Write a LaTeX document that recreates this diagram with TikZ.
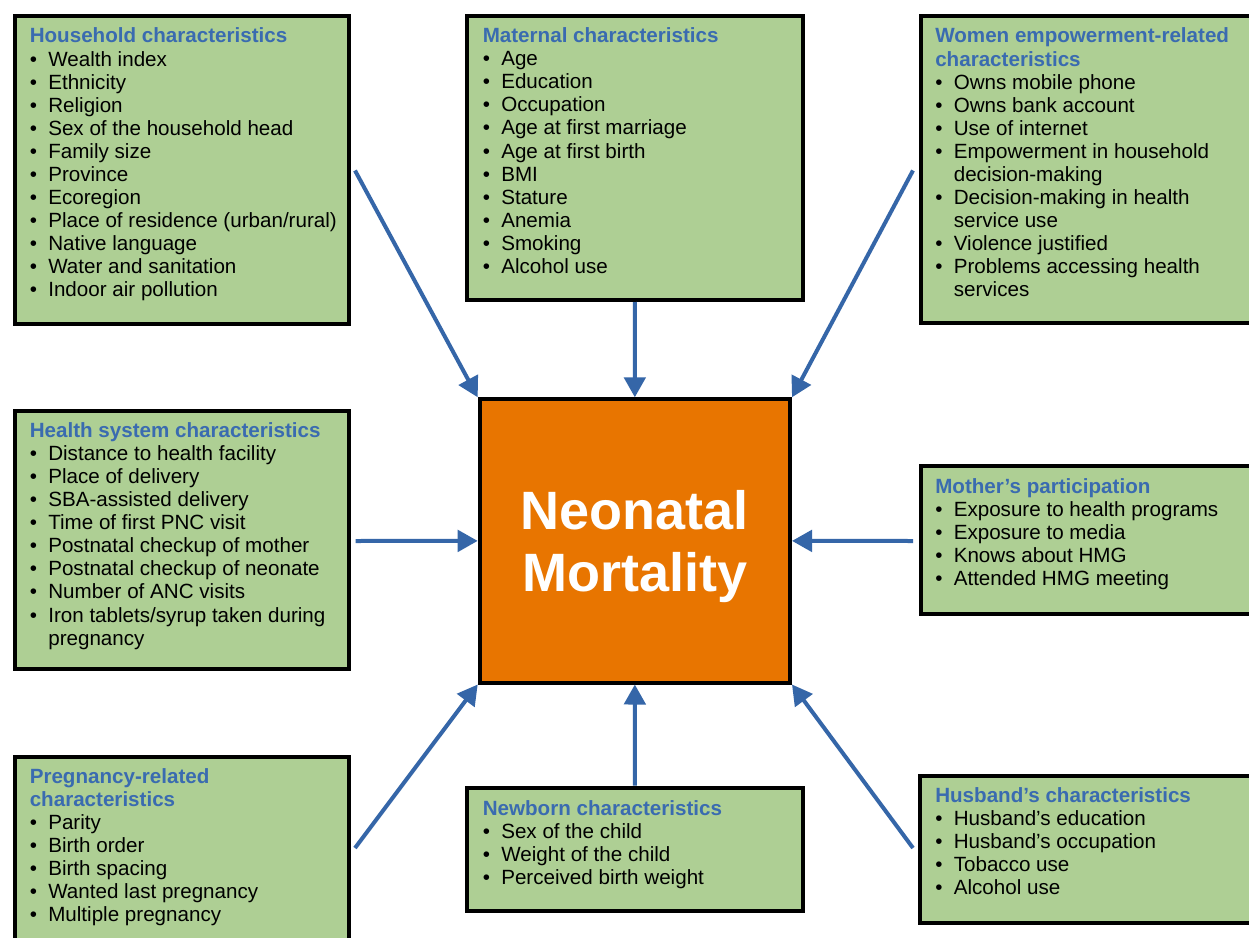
\documentclass[tikz,border=0pt]{standalone}
\usepackage{fontspec}
\setmainfont{Liberation Sans}
\usetikzlibrary{arrows.meta,fit}
\definecolor{boxgreen}{RGB}{174,207,148}
\definecolor{hdblue}{RGB}{58,107,176}
\definecolor{arrblue}{RGB}{53,102,168}
\definecolor{nmorange}{RGB}{232,117,0}
\newcommand\hdr[1]{\multicolumn{2}{@{}l@{}}{\color{hdblue}\bfseries #1}\\}
\newcommand\itm[1]{\makebox[13.9pt][l]{\textbullet} & #1\\}
\newcommand\cnt[1]{ & #1\\}
\begin{document}
\begin{tikzpicture}[x=0.75pt,y=-0.75pt,
  factor/.style={draw=black,line width=3pt,fill=boxgreen,inner sep=0pt},
  centre/.style={draw=black,line width=3pt,fill=nmorange,inner sep=0pt},
  centretext/.style={text=white,align=center,inner sep=0pt,
    font=\fontsize{40.5pt}{46.5pt}\selectfont\bfseries},
  listtext/.style={anchor=base west,inner sep=0pt,
    font=\fontsize{15.45pt}{17.3pt}\selectfont},
  conn/.style={draw=arrblue,line width=3pt,-{Triangle[length=15pt,width=16pt]}}
]
\useasboundingbox (0,0) rectangle (1249,938);
\fill[white] (0,0) rectangle (1249,938);
\clip (0,0) rectangle (1249,938);

% boxes
\node[factor,fit={(14.5,16) (349,323.5)}] (hh) {};
\node[factor,fit={(467,16) (802.5,300)}] (mat) {};
\node[factor,fit={(920.5,16) (1258,322.5)}] (wom) {};
\node[factor,fit={(14.5,411) (349,669)}] (hs) {};
\node[centre,fit={(479.7,399.3) (790,682.5)}] (nm) {};
\node[factor,fit={(920.5,466) (1258,614)}] (mp) {};
\node[factor,fit={(14.5,757) (349,948)}] (prg) {};
\node[factor,fit={(467,787.5) (802.5,910.7)}] (nb) {};
\node[factor,fit={(920,776) (1258,923)}] (hb) {};

% central text
\node[centretext,yshift=-4.5pt] (nmtext) at (nm.center) {Neonatal\\Mortality};

% list texts
\node[listtext] (hhtext) at (29.5,43) {\begin{tabular}[t]{@{}l@{}l@{}}
\hdr{Household characteristics}
\itm{Wealth index}
\itm{Ethnicity}
\itm{Religion}
\itm{Sex of the household head}
\itm{Family size}
\itm{Province}
\itm{Ecoregion}
\itm{Place of residence (urban/rural)}
\itm{Native language}
\itm{Water and sanitation}
\itm{Indoor air pollution}
\end{tabular}};

\node[listtext] (mattext) at (482.5,42.7) {\begin{tabular}[t]{@{}l@{}l@{}}
\hdr{Maternal characteristics}
\itm{Age}
\itm{Education}
\itm{Occupation}
\itm{Age at first marriage}
\itm{Age at first birth}
\itm{BMI}
\itm{Stature}
\itm{Anemia}
\itm{Smoking}
\itm{Alcohol use}
\end{tabular}};

\node[listtext] (womtext) at (935,43) {\begin{tabular}[t]{@{}l@{}l@{}}
\hdr{Women empowerment-related}
\hdr{characteristics}
\itm{Owns mobile phone}
\itm{Owns bank account}
\itm{Use of internet}
\itm{Empowerment in household}
\cnt{decision-making}
\itm{Decision-making in health}
\cnt{service use}
\itm{Violence justified}
\itm{Problems accessing health}
\cnt{services}
\end{tabular}};

\node[listtext] (hstext) at (29.5,437.5) {\begin{tabular}[t]{@{}l@{}l@{}}
\hdr{Health system characteristics}
\itm{Distance to health facility}
\itm{Place of delivery}
\itm{SBA-assisted delivery}
\itm{Time of first PNC visit}
\itm{Postnatal checkup of mother}
\itm{Postnatal checkup of neonate}
\itm{Number of ANC visits}
\itm{Iron tablets/syrup taken during}
\cnt{pregnancy}
\end{tabular}};

\node[listtext] (mptext) at (935,493.3) {\begin{tabular}[t]{@{}l@{}l@{}}
\hdr{Mother’s participation}
\itm{Exposure to health programs}
\itm{Exposure to media}
\itm{Knows about HMG}
\itm{Attended HMG meeting}
\end{tabular}};

\node[listtext] (prgtext) at (29.5,783.3) {\begin{tabular}[t]{@{}l@{}l@{}}
\hdr{Pregnancy-related}
\hdr{characteristics}
\itm{Parity}
\itm{Birth order}
\itm{Birth spacing}
\itm{Wanted last pregnancy}
\itm{Multiple pregnancy}
\end{tabular}};

\node[listtext] (nbtext) at (482.5,815) {\begin{tabular}[t]{@{}l@{}l@{}}
\hdr{Newborn characteristics}
\itm{Sex of the child}
\itm{Weight of the child}
\itm{Perceived birth weight}
\end{tabular}};

\node[listtext] (hbtext) at (935,802.7) {\begin{tabular}[t]{@{}l@{}l@{}}
\hdr{Husband’s characteristics}
\itm{Husband’s education}
\itm{Husband’s occupation}
\itm{Tobacco use}
\itm{Alcohol use}
\end{tabular}};

% free ends of connectors
\coordinate (hhout) at (355,170.5);
\coordinate (womout) at (913,170.5);
\coordinate (hsout) at (355.5,541);
\coordinate (mpout) at (913,541);
\coordinate (prgout) at (355,848);
\coordinate (hbout) at (913,848);

% connectors
\draw[conn] (hhout) -- (nm.north west);
\draw[conn] (mat.south) -- (nm.north);
\draw[conn] (womout) -- (nm.north east);
\draw[conn] (hsout) -- (nm.west);
\draw[conn] (mpout) -- (nm.east);
\draw[conn] (prgout) -- (nm.south west);
\draw[conn] (nb.north) -- (nm.south);
\draw[conn] (hbout) -- (nm.south east);
\end{tikzpicture}
\end{document}
